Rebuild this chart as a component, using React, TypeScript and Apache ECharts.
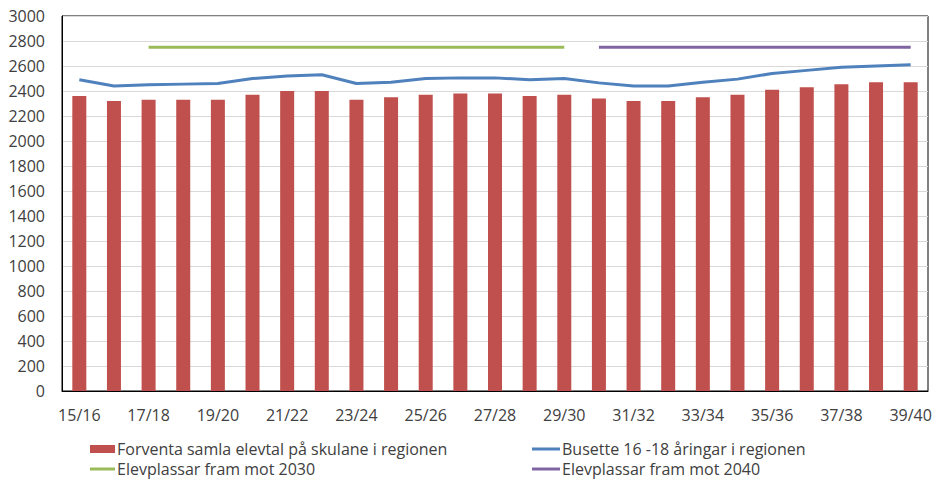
import React, { useEffect, useRef } from "react";
import * as echarts from "echarts";

const categories = [
  "15/16", "16/17", "17/18", "18/19", "19/20", "20/21", "21/22", "22/23", "23/24",
  "24/25", "25/26", "26/27", "27/28", "28/29", "29/30", "30/31", "31/32", "32/33",
  "33/34", "34/35", "35/36", "36/37", "37/38", "38/39", "39/40",
];

const elevtal = [
  2360, 2320, 2330, 2330, 2330, 2370, 2400, 2400, 2330, 2350, 2370, 2380, 2380,
  2360, 2370, 2340, 2320, 2320, 2350, 2370, 2410, 2430, 2455, 2470, 2470,
];

const busette = [
  2490, 2440, 2450, 2455, 2460, 2500, 2520, 2530, 2460, 2470, 2500, 2505, 2505,
  2490, 2500, 2465, 2440, 2440, 2470, 2495, 2540, 2565, 2590, 2600, 2610,
];

const plassar2030 = [
  null, null, 2750, 2750, 2750, 2750, 2750, 2750, 2750, 2750, 2750, 2750, 2750,
  2750, 2750, null, null, null, null, null, null, null, null, null, null,
];

const plassar2040 = [
  null, null, null, null, null, null, null, null, null, null, null, null, null,
  null, null, 2750, 2750, 2750, 2750, 2750, 2750, 2750, 2750, 2750, 2750,
];

const seriesNames = [
  "Forventa samla elevtal på skulane i regionen",
  "Busette 16 -18 åringar i regionen",
  "Elevplassar fram mot 2030",
  "Elevplassar fram mot 2040",
];

const FONT = '"Open Sans", sans-serif';
const TEXT = "#404040";

export default function App() {
  const ref = useRef<HTMLDivElement>(null);
  useEffect(() => {
    if (!ref.current) return;
    const chart = echarts.init(ref.current, undefined, { renderer: "svg" });
    const legendCommon = {
      orient: "horizontal",
      itemGap: 0,
      padding: 0,
      textStyle: {
        color: TEXT,
        fontSize: 16,
        lineHeight: 16,
        fontFamily: FONT,
        padding: [0, 0, 0, -3],
      },
    };
    chart.setOption({
      animation: false,
      backgroundColor: "#fff",
      grid: {
        left: 62,
        top: 16,
        right: 7,
        bottom: 88,
        show: true,
        borderColor: "#000",
        borderWidth: 1,
        containLabel: false,
      },
      legend: [
        { ...legendCommon, left: 90, top: 441, itemWidth: 25, itemHeight: 8, data: [{ name: seriesNames[0], icon: "rect" }] },
        { ...legendCommon, left: 532, top: 441, itemWidth: 28, itemHeight: 3, data: [{ name: seriesNames[1], icon: "rect" }] },
        { ...legendCommon, left: 90, top: 461, itemWidth: 25, itemHeight: 3, data: [{ name: seriesNames[2], icon: "rect" }] },
        { ...legendCommon, left: 532, top: 461, itemWidth: 28, itemHeight: 3, data: [{ name: seriesNames[3], icon: "rect" }] },
      ],
      xAxis: {
        type: "category",
        data: categories,
        axisLine: { show: true, lineStyle: { color: "#000", width: 1 } },
        axisTick: { show: false },
        axisLabel: { interval: 1, color: TEXT, fontSize: 16, fontFamily: FONT, margin: 16 },
      },
      yAxis: {
        type: "value",
        min: 0,
        max: 3000,
        interval: 200,
        axisLine: { show: true, lineStyle: { color: "#000", width: 1 } },
        axisTick: { show: false },
        splitLine: { lineStyle: { color: "#d9d9d9", width: 1 } },
        axisLabel: {
          color: TEXT,
          fontSize: 16,
          fontFamily: FONT,
          margin: 17,
          formatter: (v: number) => String(v),
        },
      },
      series: [
        {
          name: seriesNames[0],
          type: "bar",
          data: elevtal,
          barWidth: 14,
          itemStyle: { color: "#c0504d" },
        },
        {
          name: seriesNames[1],
          type: "line",
          data: busette,
          symbol: "none",
          lineStyle: { color: "#4f81bd", width: 3 },
          itemStyle: { color: "#4f81bd" },
        },
        {
          name: seriesNames[2],
          type: "line",
          data: plassar2030,
          symbol: "none",
          lineStyle: { color: "#9bbb59", width: 3 },
          itemStyle: { color: "#9bbb59" },
        },
        {
          name: seriesNames[3],
          type: "line",
          data: plassar2040,
          symbol: "none",
          lineStyle: { color: "#8064a2", width: 3 },
          itemStyle: { color: "#8064a2" },
        },
      ],
    });
    return () => chart.dispose();
  }, []);
  return <div ref={ref} style={{ width: 935, height: 479, position: "absolute", left: 0, top: 0 }} />;
}
